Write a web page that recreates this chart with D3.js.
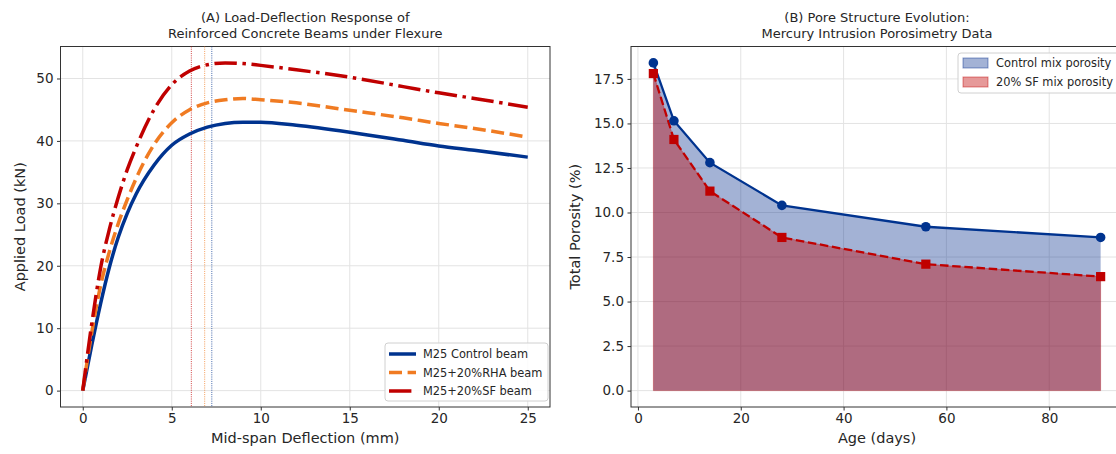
<!DOCTYPE html>
<html>
<head>
<meta charset="utf-8">
<script src="https://cdn.jsdelivr.net/npm/d3@7"></script>
<style>
  body { margin: 0; background: #fff; }
  svg { display: block; font-family: "DejaVu Sans", sans-serif; }
</style>
</head>
<body>
<script>
// ---- panel A: load-deflection data
const deflection = [0, 0.5, 1, 1.5, 2, 2.5, 3, 4, 5, 6, 7, 8, 9, 10, 12, 15, 18, 20, 22, 25];
const controlLoad = [0, 7.2, 13.9, 19.8, 24.6, 28.4, 31.5, 36.1, 39.3, 41.1, 42.2, 42.8, 43.0, 43.0, 42.5, 41.4, 40.1, 39.2, 38.5, 37.4];
const rhaLoad = [0, 9.2, 16.8, 22.3, 26.8, 30.6, 34.0, 39.4, 42.9, 45.0, 46.1, 46.6, 46.8, 46.6, 46.1, 44.9, 43.7, 42.8, 42.0, 40.6];
const sfLoad = [0, 10.6, 19.6, 25.9, 31.0, 35.4, 39.0, 45.0, 49.0, 51.2, 52.2, 52.5, 52.4, 52.1, 51.4, 50.2, 48.7, 47.7, 46.8, 45.4];
const beamNames = ["M25 Control beam", "M25+20%RHA beam", "M25+20%SF beam"];
const yieldDefl = [7.25, 6.85, 6.1];

// ---- panel B: porosity data
const ageDays = [3, 7, 14, 28, 56, 90];
const controlPorosity = [18.4, 15.15, 12.8, 10.4, 9.2, 8.6];
const sfPorosity = [17.8, 14.1, 11.2, 8.6, 7.1, 6.4];
const porosityNames = ["Control mix porosity", "20% SF mix porosity"];

const W = 1116, H = 454;
const blue = "#00338f", orange = "#f07b22", red = "#c00000";
const txt = "#262626";

let svg = d3.select("body").append("svg")
    .attr("width", W)
    .attr("height", H);

// 5% padding like matplotlib autoscale
function pad(ext) {
    let r = ext[1] - ext[0];
    return [ext[0] - r * 0.05, ext[1] + r * 0.05];
}

function drawAxes(box, x, y, xticks, yticks, yfmt, titleLines, xlabel, ylabel, ylabelX) {
    let g = svg.append("g");
    // grid
    g.selectAll(".gx").data(xticks).enter().append("line")
        .attr("x1", d => x(d)).attr("x2", d => x(d))
        .attr("y1", box.top).attr("y2", box.bottom)
        .attr("stroke", "#e3e3e3").attr("stroke-width", 1);
    g.selectAll(".gy").data(yticks).enter().append("line")
        .attr("x1", box.left).attr("x2", box.right)
        .attr("y1", d => y(d)).attr("y2", d => y(d))
        .attr("stroke", "#e3e3e3").attr("stroke-width", 1);

    let xa = svg.append("g")
        .attr("transform", "translate(0," + box.bottom + ")")
        .call(d3.axisBottom(x).tickValues(xticks).tickSize(3.5).tickPadding(3));
    let ya = svg.append("g")
        .attr("transform", "translate(" + box.left + ",0)")
        .call(d3.axisLeft(y).tickValues(yticks).tickFormat(yfmt).tickSize(3.5).tickPadding(3.5));
    [xa, ya].forEach(a => {
        a.select(".domain").remove();
        a.selectAll("text").attr("font-size", 13.5).attr("fill", txt).attr("font-family", "DejaVu Sans");
        a.selectAll("line").attr("stroke", "#333");
    });

    svg.append("rect")
        .attr("x", box.left).attr("y", box.top)
        .attr("width", box.right - box.left).attr("height", box.bottom - box.top)
        .attr("fill", "none").attr("stroke", "#333").attr("stroke-width", 1);

    let cx = (box.left + box.right) / 2;
    svg.append("text")
        .attr("x", cx).attr("y", 22)
        .attr("text-anchor", "middle").attr("font-size", 13).attr("fill", txt)
        .text(titleLines[0]);
    svg.append("text")
        .attr("x", cx).attr("y", 38)
        .attr("text-anchor", "middle").attr("font-size", 13).attr("fill", txt)
        .text(titleLines[1]);
    svg.append("text")
        .attr("x", cx).attr("y", 443)
        .attr("text-anchor", "middle").attr("font-size", 14.5).attr("fill", txt)
        .text(xlabel);
    svg.append("text")
        .attr("transform", "translate(" + ylabelX + "," + ((box.top + box.bottom) / 2) + ") rotate(-90)")
        .attr("text-anchor", "middle").attr("font-size", 14.5).attr("fill", txt)
        .text(ylabel);
}

// ================= Panel A
let boxA = {left: 60.5, right: 550, top: 46.5, bottom: 407};
let xA = d3.scaleLinear()
    .domain(pad(d3.extent(deflection)))
    .range([boxA.left, boxA.right]);
let yA = d3.scaleLinear()
    .domain(pad([0, d3.max(sfLoad)]))
    .range([boxA.bottom, boxA.top]);

drawAxes(boxA, xA, yA, [0, 5, 10, 15, 20, 25], [0, 10, 20, 30, 40, 50], d3.format("d"),
    ["(A) Load-Deflection Response of", "Reinforced Concrete Beams under Flexure"],
    "Mid-span Deflection (mm)", "Applied Load (kN)", 25);

let beamSeries = [
    {name: beamNames[0], vals: controlLoad, color: blue, dash: null},
    {name: beamNames[1], vals: rhaLoad, color: orange, dash: "13,5.6"},
    {name: beamNames[2], vals: sfLoad, color: red, dash: "22.4,5.6,3.5,5.6"}
];

// yield markers (dotted verticals)
let yieldColors = [blue, orange, red];
svg.selectAll(".yl").data(yieldDefl).enter().append("line")
    .attr("x1", d => xA(d)).attr("x2", d => xA(d))
    .attr("y1", boxA.top).attr("y2", boxA.bottom)
    .attr("stroke", (d, i) => yieldColors[i])
    .attr("stroke-opacity", 0.75)
    .attr("stroke-width", 1)
    .attr("stroke-dasharray", "1,1.2");

let lineA = d3.line()
    .x((d, i) => xA(deflection[i]))
    .y(d => yA(d))
    .curve(d3.curveMonotoneX);

svg.selectAll(".beam").data(beamSeries).enter().append("path")
    .attr("d", d => lineA(d.vals))
    .attr("fill", "none")
    .attr("stroke", d => d.color)
    .attr("stroke-width", 3.5)
    .attr("stroke-dasharray", d => d.dash);

// legend A
let legA = svg.append("g");
legA.append("rect")
    .attr("x", 385).attr("y", 343).attr("width", 163).attr("height", 58)
    .attr("rx", 3).attr("fill", "#fff").attr("fill-opacity", 0.85)
    .attr("stroke", "#d0d0d0");
beamSeries.forEach((s, i) => {
    let yy = 354 + i * 18.5;
    legA.append("line")
        .attr("x1", 389).attr("x2", 416).attr("y1", yy).attr("y2", yy)
        .attr("stroke", s.color).attr("stroke-width", 3.5)
        .attr("stroke-dasharray", s.dash);
    legA.append("text")
        .attr("x", 423).attr("y", yy + 4)
        .attr("font-size", 11.4).attr("fill", txt)
        .text(s.name);
});

// ================= Panel B
let boxB = {left: 631, right: 1123, top: 46.5, bottom: 407};
let xB = d3.scaleLinear()
    .domain(pad(d3.extent(ageDays)))
    .range([boxB.left, boxB.right]);
let yB = d3.scaleLinear()
    .domain(pad([0, d3.max(controlPorosity)]))
    .range([boxB.bottom, boxB.top]);

drawAxes(boxB, xB, yB, [0, 20, 40, 60, 80], d3.range(0, 17.6, 2.5), d3.format(".1f"),
    ["(B) Pore Structure Evolution:", "Mercury Intrusion Porosimetry Data"],
    "Age (days)", "Total Porosity (%)", 580);

let areaB = d3.area()
    .x((d, i) => xB(ageDays[i]))
    .y0(yB(0))
    .y1(d => yB(d));

svg.append("path").attr("d", areaB(controlPorosity))
    .attr("fill", "#00298a").attr("fill-opacity", 0.36);
svg.append("path").attr("d", areaB(sfPorosity))
    .attr("fill", red).attr("fill-opacity", 0.4)
    .attr("stroke", red).attr("stroke-opacity", 0.3).attr("stroke-width", 1);

let lineB = d3.line()
    .x((d, i) => xB(ageDays[i]))
    .y(d => yB(d));

svg.append("path").attr("d", lineB(controlPorosity))
    .attr("fill", "none").attr("stroke", blue).attr("stroke-width", 2.3);
svg.append("path").attr("d", lineB(sfPorosity))
    .attr("fill", "none").attr("stroke", red).attr("stroke-width", 2.3)
    .attr("stroke-dasharray", "8.5,3.7");

svg.selectAll(".cm").data(controlPorosity).enter().append("circle")
    .attr("cx", (d, i) => xB(ageDays[i]))
    .attr("cy", d => yB(d))
    .attr("r", 4.8)
    .attr("fill", blue);
svg.selectAll(".sm").data(sfPorosity).enter().append("rect")
    .attr("x", (d, i) => xB(ageDays[i]) - 4.6)
    .attr("y", d => yB(d) - 4.6)
    .attr("width", 9.2).attr("height", 9.2)
    .attr("fill", red);

// legend B
let legB = svg.append("g");
legB.append("rect")
    .attr("x", 958).attr("y", 53).attr("width", 170).attr("height", 40)
    .attr("rx", 3).attr("fill", "#fff").attr("fill-opacity", 0.85)
    .attr("stroke", "#d0d0d0");
[["#00298a", 0.36], [red, 0.4]].forEach((c, i) => {
    let yy = 63 + i * 19;
    legB.append("rect")
        .attr("x", 963).attr("y", yy - 5).attr("width", 25).attr("height", 10)
        .attr("fill", c[0]).attr("fill-opacity", c[1])
        .attr("stroke", c[0]).attr("stroke-opacity", 0.45);
    legB.append("text")
        .attr("x", 996).attr("y", yy + 4)
        .attr("font-size", 11.4).attr("fill", txt)
        .text(porosityNames[i]);
});
</script>
</body>
</html>
